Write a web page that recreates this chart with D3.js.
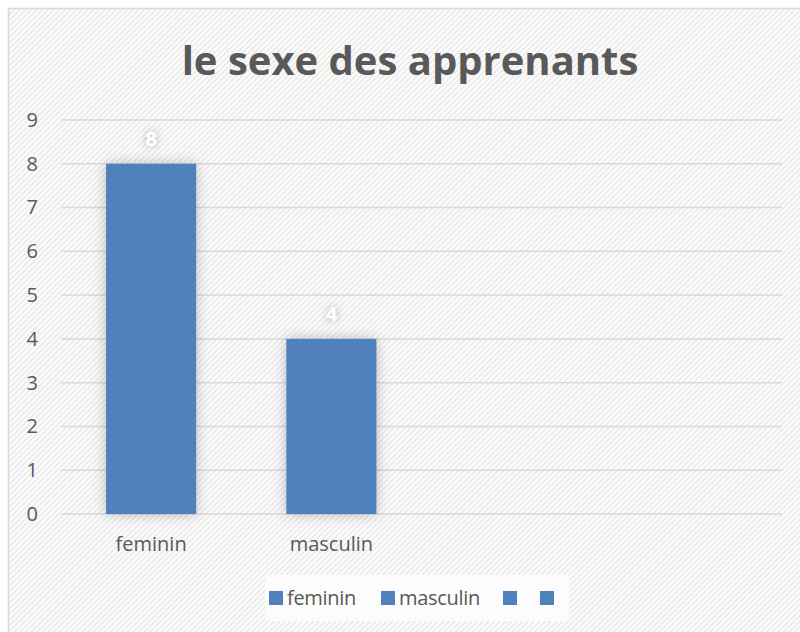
<!DOCTYPE html>
<meta charset="utf-8">
<style>
body { margin: 0; background: #fff; }
text { font-family: "Open Sans", "Noto Sans", sans-serif; }
</style>
<body>
<div id="chart"></div>
<script src="https://d3js.org/d3.v7.min.js"></script>
<script>
// chart data
var categories = ["feminin", "masculin", " ", "  "];
var values = [8, 4, null, null];
var legendLabels = ["feminin", "masculin", "", ""];
var yTicks = [0, 1, 2, 3, 4, 5, 6, 7, 8, 9];

var W = 800, H = 632;
var margin = {top: 120, right: 18, bottom: 118, left: 61};
var width = 782 - margin.left, height = 514 - margin.top;

var svg = d3.select("#chart").append("svg")
    .attr("width", W).attr("height", H);

var defs = svg.append("defs");
var pat = defs.append("pattern")
    .attr("id", "stripes")
    .attr("patternUnits", "userSpaceOnUse")
    .attr("width", 4).attr("height", 4)
    .attr("patternTransform", "rotate(45)");
pat.append("rect").attr("width", 4).attr("height", 4).attr("fill", "#fdfdfd");
pat.append("rect").attr("width", 2).attr("height", 4).attr("fill", "#ececec");

var shadow = defs.append("filter").attr("id", "glow")
    .attr("x", "-40%").attr("y", "-40%").attr("width", "180%").attr("height", "180%");
shadow.append("feGaussianBlur").attr("in", "SourceAlpha").attr("stdDeviation", 7);
shadow.append("feComponentTransfer").append("feFuncA").attr("type", "linear").attr("slope", 0.25);
var merge = shadow.append("feMerge");
merge.append("feMergeNode");
merge.append("feMergeNode").attr("in", "SourceGraphic");

var tshadow = defs.append("filter").attr("id", "tglow")
    .attr("x", "-100%").attr("y", "-100%").attr("width", "300%").attr("height", "300%");
tshadow.append("feGaussianBlur").attr("in", "SourceAlpha").attr("stdDeviation", 4);
tshadow.append("feComponentTransfer").append("feFuncA").attr("type", "linear").attr("slope", 0.35);
var tmerge = tshadow.append("feMerge");
tmerge.append("feMergeNode");
tmerge.append("feMergeNode").attr("in", "SourceGraphic");

// background with border
svg.append("rect")
    .attr("x", 8.5).attr("y", 8.5)
    .attr("width", W).attr("height", H)
    .attr("fill", "url(#stripes)")
    .attr("stroke", "#d9d9d9").attr("stroke-width", 1.5);

svg.append("text")
    .attr("x", 410).attr("y", 75)
    .attr("text-anchor", "middle")
    .attr("font-size", 40).attr("font-weight", "bold")
    .attr("fill", "#595959")
    .text("le sexe des apprenants");

var g = svg.append("g")
    .attr("transform", "translate(" + margin.left + "," + margin.top + ")");

var x = d3.scaleBand().domain(categories).range([0, width]).paddingInner(0.5).paddingOuter(0.25);
var y = d3.scaleLinear().domain([0, 9]).range([height, 0]);

// gridlines
g.selectAll(".grid").data(yTicks).enter().append("line")
    .attr("x1", 0).attr("x2", width)
    .attr("y1", function(d) { return y(d); })
    .attr("y2", function(d) { return y(d); })
    .attr("stroke", "#d9d9d9").attr("stroke-width", 1.5);

// y axis labels
var yAxis = d3.axisLeft(y).tickValues(yTicks).tickSize(0).tickPadding(23);
g.append("g").call(yAxis)
    .call(function(a) { a.select(".domain").remove(); })
    .selectAll("text")
    .attr("font-size", 20).attr("fill", "#595959")
    .style("font-family", "Open Sans, sans-serif");

// x axis labels
var xAxis = d3.axisBottom(x).tickSize(0).tickPadding(23);
g.append("g").attr("transform", "translate(0," + height + ")").call(xAxis)
    .call(function(a) { a.select(".domain").remove(); })
    .selectAll("text")
    .attr("font-size", 20).attr("fill", "#595959")
    .style("font-family", "Open Sans, sans-serif");

var data = categories.map(function(c, i) { return {c: c, v: values[i]}; })
    .filter(function(d) { return d.v != null; });

g.selectAll(".bar").data(data).enter().append("rect")
    .attr("class", "bar")
    .attr("x", function(d) { return x(d.c); })
    .attr("y", function(d) { return y(d.v); })
    .attr("width", x.bandwidth())
    .attr("height", function(d) { return height - y(d.v); })
    .attr("fill", "#4f81bd")
    .attr("filter", "url(#glow)");

g.selectAll(".lbl").data(data).enter().append("text")
    .attr("x", function(d) { return x(d.c) + x.bandwidth() / 2; })
    .attr("y", function(d) { return y(d.v) - 18; })
    .attr("text-anchor", "middle")
    .attr("font-size", 20).attr("font-weight", "bold")
    .attr("fill", "#ffffff")
    .attr("filter", "url(#tglow)")
    .text(function(d) { return d.v; });

// legend
var lg = svg.append("g");
lg.append("rect")
    .attr("x", 265).attr("y", 575).attr("width", 304).attr("height", 46)
    .attr("fill", "#fcfcfc");
var legendX = [269, 381, 503, 540];
legendLabels.forEach(function(l, i) {
    lg.append("rect")
        .attr("x", legendX[i]).attr("y", 591).attr("width", 14).attr("height", 14)
        .attr("fill", "#4f81bd");
    lg.append("text")
        .attr("x", legendX[i] + 18).attr("y", 605)
        .attr("font-size", 20).attr("fill", "#595959")
        .style("letter-spacing", "-0.3px")
        .text(l);
});
</script>
</body>
